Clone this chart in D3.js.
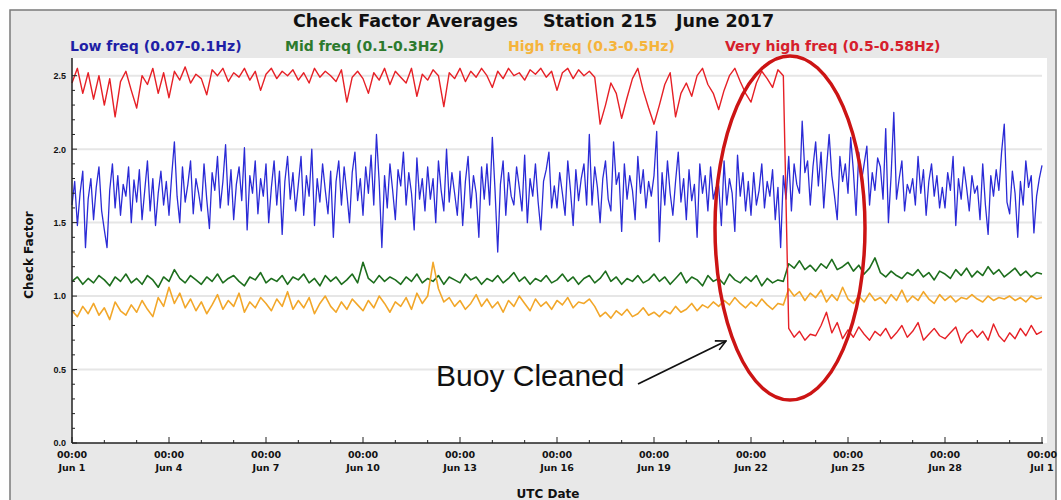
<!DOCTYPE html>
<html>
<head>
<meta charset="utf-8">
<script src="https://cdn.jsdelivr.net/npm/d3@7"></script>
<style>
    html, body { margin: 0; padding: 0; background: #ffffff; }
    svg { display: block; }
</style>
</head>
<body>
<div id="chart"></div>
<script>
(function () {
    "use strict";

    // readings, Jun 1 00:00 UTC onward
    const lowStepHours = 2;
    const lowFreq = [
        1.62, 1.78, 1.48, 1.70, 1.85, 1.33, 1.66, 1.80, 1.52, 1.74, 1.88, 1.58,
        1.45, 1.33, 1.72, 1.90, 1.60, 1.82, 1.55, 1.76, 1.68, 1.88, 1.50, 1.79,
        1.64, 1.86, 1.52, 1.72, 1.92, 1.58, 1.80, 1.48, 1.70, 1.85, 1.62, 1.78,
        1.55, 1.82, 2.05, 1.68, 1.50, 1.88, 1.64, 1.76, 1.92, 1.56, 1.80, 1.70,
        1.58, 1.90, 1.66, 1.46, 1.84, 1.72, 1.95, 1.60, 1.78, 2.03, 1.62, 1.86,
        1.52, 1.76, 1.88, 1.65, 2.01, 1.45, 1.82, 1.70, 1.92, 1.56, 1.80, 1.68,
        1.90, 1.50, 1.74, 1.92, 1.62, 1.85, 1.42, 1.78, 1.95, 1.66, 1.84, 1.58,
        1.76, 1.95, 1.55, 1.82, 1.68, 2.00, 1.48, 1.80, 1.64, 1.90, 1.72, 1.56,
        1.85, 1.40, 1.78, 1.92, 1.62, 1.88, 1.70, 1.50, 1.84, 1.98, 1.65, 1.80,
        1.55, 1.88, 1.70, 1.96, 1.62, 2.10, 1.78, 1.33, 1.82, 1.60, 1.90, 1.72,
        1.52, 1.86, 1.75, 1.98, 1.62, 1.84, 1.70, 1.45, 1.94, 1.66, 1.80, 1.58,
        1.88, 1.66, 1.80, 1.50, 1.92, 1.72, 1.58, 2.00, 1.64, 1.84, 1.70, 1.55,
        1.85, 1.48, 1.78, 1.95, 1.60, 1.82, 1.70, 1.40, 1.88, 1.66, 1.90, 1.62,
        2.08, 1.72, 1.30, 1.76, 1.92, 1.55, 1.84, 1.68, 1.62, 1.88, 1.74, 1.58,
        1.96, 1.50, 1.80, 1.68, 1.90, 1.64, 1.45, 1.78, 1.86, 1.98, 1.60, 1.75,
        1.60, 1.84, 1.70, 1.55, 1.92, 1.72, 1.48, 1.86, 1.65, 1.80, 1.90, 1.62,
        2.10, 1.62, 1.88, 1.74, 1.50, 1.80, 1.92, 1.66, 1.58, 2.05, 1.76, 1.84,
        1.44, 1.90, 1.66, 1.82, 1.72, 1.52, 1.95, 1.70, 1.86, 1.60, 1.78, 1.68,
        1.82, 2.12, 1.37, 1.84, 1.62, 1.92, 1.70, 1.55, 1.78, 1.98, 1.64, 1.80,
        1.52, 1.86, 1.65, 1.76, 1.40, 1.90, 1.70, 1.82, 1.58, 1.88, 1.66, 1.74,
        1.75, 1.48, 1.92, 1.62, 1.80, 1.70, 1.44, 1.96, 1.68, 1.84, 1.58, 1.78,
        1.55, 1.84, 1.62, 1.72, 1.90, 1.60, 1.78, 1.68, 1.86, 1.52, 1.74, 1.33,
        1.82, 1.66, 1.95, 1.58, 1.90, 1.76, 1.70, 2.19, 1.84, 1.92, 1.62, 1.88,
        2.05, 1.75, 1.98, 1.60, 1.86, 2.10, 1.82, 1.68, 1.52, 1.95, 1.78, 1.90,
        1.70, 2.08, 1.85, 1.55, 1.98, 1.78, 1.90, 2.02, 1.62, 1.84, 1.72, 1.94,
        1.88, 1.66, 2.14, 1.50, 1.82, 2.25, 1.66, 1.80, 1.92, 1.58, 1.76, 1.70,
        1.80, 1.62, 1.95, 1.70, 1.86, 1.55, 1.78, 1.90, 1.68, 1.82, 1.60, 1.74,
        1.60, 1.84, 1.72, 1.95, 1.48, 1.80, 1.66, 1.88, 1.74, 1.58, 1.82, 1.70,
        1.75, 1.52, 1.90, 1.62, 1.42, 1.82, 1.68, 1.86, 1.72, 1.98, 2.17, 1.64,
        1.56, 1.85, 1.70, 1.40, 1.78, 1.62, 1.92, 1.74, 1.82, 1.43, 1.68, 1.80,
        1.89
    ];

    const otherStepHours = 4;
    const midFreq = [
        1.10, 1.13, 1.08, 1.12, 1.09, 1.14,
        1.11, 1.07, 1.13, 1.10, 1.15, 1.09,
        1.12, 1.08, 1.14, 1.11, 1.06, 1.13,
        1.10, 1.18, 1.12, 1.09, 1.14, 1.11,
        1.08, 1.13, 1.10, 1.15, 1.09, 1.12,
        1.14, 1.10, 1.07, 1.13, 1.11, 1.16,
        1.09, 1.12, 1.10, 1.14, 1.08, 1.13,
        1.11, 1.15, 1.09, 1.12, 1.07, 1.14,
        1.10, 1.13, 1.08, 1.11, 1.15, 1.09,
        1.23, 1.12, 1.09, 1.14, 1.10, 1.13,
        1.11, 1.08, 1.13, 1.10, 1.15, 1.09,
        1.12, 1.10, 1.14, 1.08, 1.13, 1.11,
        1.09, 1.15, 1.11, 1.13, 1.08, 1.12,
        1.10, 1.14, 1.09, 1.12, 1.16, 1.10,
        1.13, 1.08, 1.12, 1.10, 1.14, 1.09,
        1.11, 1.15, 1.10, 1.13, 1.08, 1.12,
        1.14, 1.09, 1.12, 1.17, 1.10, 1.13,
        1.08, 1.12, 1.10, 1.14, 1.09, 1.11,
        1.15, 1.10, 1.13, 1.08, 1.12, 1.16,
        1.09, 1.13, 1.11, 1.07, 1.14, 1.10,
        1.12, 1.08, 1.15, 1.11, 1.09, 1.13,
        1.10, 1.14, 1.07, 1.12, 1.09, 1.11,
        1.10, 1.22, 1.19, 1.24, 1.18, 1.21,
        1.17, 1.22, 1.19, 1.25, 1.18, 1.20,
        1.23, 1.17, 1.21, 1.15, 1.19, 1.26,
        1.16, 1.13, 1.17, 1.14, 1.12, 1.16,
        1.14, 1.18, 1.13, 1.16, 1.11, 1.17,
        1.15, 1.12, 1.18, 1.14, 1.19, 1.13,
        1.17, 1.14, 1.20, 1.15, 1.18, 1.13,
        1.16, 1.19, 1.14, 1.17, 1.13, 1.16,
        1.15
    ];

    const highFreq = [
        0.90, 0.86, 0.93, 0.88, 0.95, 0.87,
        0.92, 0.84, 0.96, 0.90, 0.87, 0.94,
        0.89, 0.97, 0.91, 0.86, 0.99, 0.93,
        1.06, 0.95, 1.02, 0.92, 0.98, 0.90,
        0.96, 0.88, 0.94, 1.01, 0.91, 0.97,
        0.93, 1.02, 0.89, 0.96, 0.92, 0.99,
        0.95, 0.90, 0.98, 0.93, 1.03, 0.91,
        0.97, 0.92, 0.99, 0.88, 0.95, 1.00,
        0.93, 0.89, 0.96, 0.91, 0.98, 0.94,
        0.90, 0.97, 0.92, 1.00, 0.95, 0.89,
        0.96, 0.93, 0.99, 0.91, 1.02, 0.95,
        1.00, 1.23, 1.05, 0.96, 0.99, 0.93,
        0.97, 0.91, 0.95, 1.01, 0.93, 0.98,
        0.92, 0.96, 0.89, 0.97, 0.93, 1.00,
        0.95, 0.90, 0.98, 0.93, 0.96, 0.91,
        0.97, 0.94, 0.99, 0.92, 0.96, 0.95,
        0.98, 0.93, 0.86, 0.89, 0.85, 0.90,
        0.87, 0.91, 0.86, 0.88, 0.92, 0.87,
        0.89, 0.86, 0.90, 0.88, 0.93, 0.89,
        0.91, 0.95, 0.90, 0.94, 0.92, 0.96,
        0.93, 0.97, 0.94, 0.99, 0.95, 0.92,
        0.96, 0.93, 0.98, 0.94, 0.91, 0.95,
        0.94, 1.05, 1.00, 1.03, 0.97, 1.02,
        0.99, 1.04, 0.96, 1.01, 0.97, 1.06,
        0.98, 0.95, 1.00, 0.96, 1.02, 0.97,
        0.99, 0.95, 1.01, 0.97, 1.04, 0.96,
        1.00, 0.97, 1.03, 0.98, 0.95, 1.01,
        0.97, 1.00, 0.96, 0.99, 0.98, 1.01,
        0.98, 0.96, 1.00, 0.97, 0.99, 0.98,
        1.00, 0.97, 0.99, 0.96, 1.00, 0.98,
        0.99
    ];

    const veryHighFreq = [
        2.45, 2.55, 2.38, 2.52, 2.34, 2.50,
        2.30, 2.48, 2.22, 2.46, 2.53, 2.40,
        2.28, 2.50, 2.44, 2.55, 2.38, 2.52,
        2.35, 2.53, 2.47, 2.56, 2.45, 2.51,
        2.48, 2.37, 2.54, 2.50, 2.55, 2.46,
        2.52, 2.49, 2.55, 2.47, 2.53, 2.40,
        2.51, 2.55, 2.48, 2.53, 2.50, 2.54,
        2.47, 2.52, 2.45, 2.55, 2.49, 2.53,
        2.50, 2.46, 2.54, 2.32, 2.49, 2.53,
        2.48, 2.38, 2.52, 2.47, 2.55, 2.44,
        2.53, 2.49, 2.45, 2.55, 2.36, 2.51,
        2.47, 2.54, 2.50, 2.29, 2.52, 2.48,
        2.55, 2.46, 2.53, 2.49, 2.55, 2.50,
        2.42, 2.53, 2.48, 2.55, 2.50, 2.52,
        2.47, 2.54, 2.51, 2.55, 2.49, 2.53,
        2.40, 2.52, 2.55, 2.48, 2.54, 2.50,
        2.53, 2.49, 2.17, 2.30, 2.45, 2.38,
        2.21, 2.35, 2.48, 2.55, 2.40, 2.28,
        2.17, 2.30, 2.44, 2.52, 2.22, 2.38,
        2.45, 2.36, 2.50, 2.55, 2.44, 2.38,
        2.27, 2.40, 2.50, 2.55, 2.46, 2.38,
        2.32, 2.45, 2.53, 2.48, 2.42, 2.54,
        2.50, 0.78, 0.72, 0.76, 0.70, 0.74,
        0.73, 0.80, 0.89, 0.75, 0.82, 0.71,
        0.77, 0.72, 0.79, 0.74, 0.70, 0.76,
        0.73, 0.78, 0.71, 0.75, 0.80, 0.72,
        0.76, 0.82, 0.70, 0.74, 0.78, 0.73,
        0.71, 0.75, 0.79, 0.68, 0.74, 0.77,
        0.72, 0.76, 0.70, 0.81, 0.73, 0.69,
        0.75, 0.71, 0.78, 0.73, 0.80, 0.74,
        0.76
    ];

    const seriesNames = [
        "Low freq (0.07-0.1Hz)",
        "Mid freq (0.1-0.3Hz)",
        "High freq (0.3-0.5Hz)",
        "Very high freq (0.5-0.58Hz)"
    ];
    const seriesValues = [lowFreq, midFreq, highFreq, veryHighFreq];
    const seriesSteps = [lowStepHours, otherStepHours, otherStepHours, otherStepHours];
    const lineColors = ["#2b2bd6", "#1d6e1d", "#f2a72a", "#e62026"];
    const lineWidths = [1.3, 1.6, 1.6, 1.4];
    const legendColors = ["#1f1fa6", "#2d7a2d", "#f5b43c", "#d6202c"];
    const legendX = [70, 285, 508, 725];

    const yTicks = [0.0, 0.5, 1.0, 1.5, 2.0, 2.5];
    const startDate = new Date(Date.UTC(2017, 5, 1));
    const endDate = new Date(Date.UTC(2017, 6, 1));

    const width = 1061;
    const height = 500;
    const plot = { left: 72, right: 1042, top: 58, bottom: 443 };

    const svg = d3.select("#chart")
        .append("svg")
        .attr("width", width)
        .attr("height", height)
        .style("font-family", "'DejaVu Sans', sans-serif");

    // outer panel
    svg.append("rect")
        .attr("x", 10).attr("y", 10)
        .attr("width", 1046).attr("height", 496)
        .attr("fill", "#e8e8e8")
        .attr("stroke", "#7a7a7a")
        .attr("stroke-width", 1.5);

    svg.append("rect")
        .attr("x", plot.left).attr("y", plot.top)
        .attr("width", plot.right - plot.left + 5)
        .attr("height", plot.bottom - plot.top)
        .attr("fill", "#ffffff");

    const x = d3.scaleUtc()
        .domain([startDate, endDate])
        .range([plot.left, plot.right]);

    const y = d3.scaleLinear()
        .domain([0, 2.6])
        .range([plot.bottom, plot.top + 3]);

    // faint grid
    svg.append("g")
        .selectAll("line")
        .data(yTicks.slice(1))
        .join("line")
        .attr("x1", plot.left)
        .attr("x2", plot.right)
        .attr("y1", (d) => y(d))
        .attr("y2", (d) => y(d))
        .attr("stroke", "#e6e6e6")
        .attr("stroke-width", 2);

    // series
    const line = d3.line()
        .x((d) => x(d.t))
        .y((d) => y(d.v));

    seriesValues.forEach((values, i) => {
        const points = values.map((v, k) => ({
            t: new Date(startDate.getTime() + k * seriesSteps[i] * 3600000),
            v
        }));
        svg.append("path")
            .datum(points)
            .attr("fill", "none")
            .attr("stroke", lineColors[i])
            .attr("stroke-width", lineWidths[i])
            .attr("stroke-linejoin", "round")
            .attr("d", line);
    });

    // axes
    const yAxis = d3.axisLeft(y)
        .tickValues(yTicks)
        .tickSize(0)
        .tickPadding(6)
        .tickFormat(d3.format(".1f"));

    const yAxisG = svg.append("g")
        .attr("transform", `translate(${plot.left},0)`)
        .call(yAxis);
    yAxisG.select(".domain").remove();
    yAxisG.selectAll("text")
        .style("font-size", "9px")
        .style("font-weight", "bold")
        .attr("fill", "#111");

    svg.append("g")
        .selectAll("line")
        .data(d3.range(0, 26).map((k) => k / 10))
        .join("line")
        .attr("x1", plot.left)
        .attr("x2", (d) => plot.left + (Math.round(d * 10) % 5 === 0 ? 5 : 3))
        .attr("y1", (d) => y(d))
        .attr("y2", (d) => y(d))
        .attr("stroke", "#222")
        .attr("stroke-width", 1);

    const dayTicks = d3.utcDay.range(startDate, d3.utcDay.offset(endDate, 1));
    svg.append("g")
        .selectAll("line")
        .data(dayTicks)
        .join("line")
        .attr("x1", (d) => x(d))
        .attr("x2", (d) => x(d))
        .attr("y1", plot.bottom)
        .attr("y2", (d) => plot.bottom - ((d.getUTCDate() - 1) % 3 === 0 ? 6 : 3))
        .attr("stroke", "#222")
        .attr("stroke-width", 1);

    svg.append("line")
        .attr("x1", plot.left).attr("x2", plot.left)
        .attr("y1", plot.top).attr("y2", plot.bottom)
        .attr("stroke", "#222").attr("stroke-width", 1.5);

    svg.append("line")
        .attr("x1", plot.left).attr("x2", plot.right + 1)
        .attr("y1", plot.bottom).attr("y2", plot.bottom)
        .attr("stroke", "#222").attr("stroke-width", 1.5);

    const xLabels = svg.append("g")
        .selectAll("text")
        .data(x.ticks(d3.utcDay.every(3)))
        .join("text")
        .attr("text-anchor", "middle")
        .attr("fill", "#111")
        .style("font-size", "9.5px")
        .style("font-weight", "bold");
    xLabels.append("tspan")
        .attr("x", (d) => x(d))
        .attr("y", 458)
        .text(d3.utcFormat("%H:%M"));
    xLabels.append("tspan")
        .attr("x", (d) => x(d))
        .attr("y", 471)
        .text(d3.utcFormat("%b %-d"));

    // titles
    const title = svg.append("text")
        .attr("y", 27)
        .attr("fill", "#111")
        .style("font-size", "17.5px")
        .style("font-weight", "bold");
    title.append("tspan").attr("x", 293).text("Check Factor Averages");
    title.append("tspan").attr("x", 543).text("Station 215");
    title.append("tspan").attr("x", 676).text("June 2017");

    svg.append("g")
        .selectAll("text")
        .data(seriesNames)
        .join("text")
        .attr("x", (d, i) => legendX[i])
        .attr("y", 51)
        .attr("fill", (d, i) => legendColors[i])
        .style("font-size", "14px")
        .style("font-weight", "bold")
        .text((d) => d);

    svg.append("text")
        .attr("transform", "translate(33,255) rotate(-90)")
        .attr("text-anchor", "middle")
        .attr("fill", "#111")
        .style("font-size", "12px")
        .style("font-weight", "bold")
        .text("Check Factor");

    svg.append("text")
        .attr("x", 548)
        .attr("y", 498)
        .attr("text-anchor", "middle")
        .attr("fill", "#111")
        .style("font-size", "12px")
        .style("font-weight", "bold")
        .text("UTC Date");

    // annotation
    svg.append("defs")
        .append("marker")
        .attr("id", "arrow")
        .attr("viewBox", "0 0 12 12")
        .attr("refX", 11)
        .attr("refY", 6)
        .attr("markerWidth", 12)
        .attr("markerHeight", 12)
        .attr("markerUnits", "userSpaceOnUse")
        .attr("orient", "auto")
        .append("path")
        .attr("d", "M1,1 L11,6 L1,11")
        .attr("fill", "none")
        .attr("stroke", "#111")
        .attr("stroke-width", 1.6);

    svg.append("text")
        .attr("x", 436)
        .attr("y", 386)
        .attr("fill", "#111")
        .style("font-family", "'Liberation Sans', Arial, sans-serif")
        .style("font-size", "30px")
        .text("Buoy Cleaned");

    svg.append("line")
        .attr("x1", 638).attr("y1", 384)
        .attr("x2", 726).attr("y2", 341)
        .attr("stroke", "#111")
        .attr("stroke-width", 1.8)
        .attr("marker-end", "url(#arrow)");

    svg.append("ellipse")
        .attr("cx", 790)
        .attr("cy", 228)
        .attr("rx", 75)
        .attr("ry", 172)
        .attr("fill", "none")
        .attr("stroke", "#cc1414")
        .attr("stroke-width", 3.5);
})();
</script>
</body>
</html>
